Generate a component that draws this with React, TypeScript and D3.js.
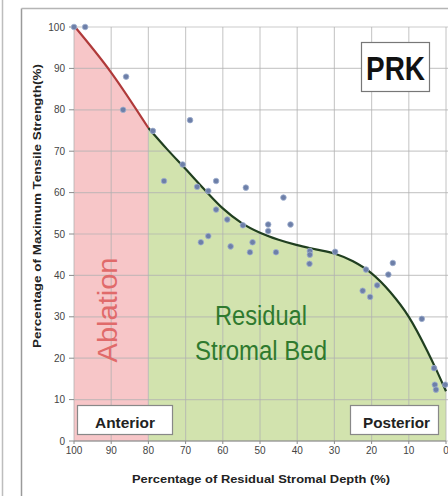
import React from "react";
import * as d3 from "d3";

const xTicks = [100, 90, 80, 70, 60, 50, 40, 30, 20, 10, 0];
const yTicks = [0, 10, 20, 30, 40, 50, 60, 70, 80, 90, 100];

const curveDepth = [100, 90, 80, 75, 70, 65, 60, 55, 50, 45, 40, 35, 30, 25, 20, 15, 10, 5, 2.5, 0];
const curveStrength = [100.3, 89.0, 75.6, 70.5, 65.7, 60.8, 56.2, 52.7, 50.3, 48.6, 47.3, 46.3, 45.3, 43.4, 40.5, 36, 30, 21.7, 17, 12];

const pointDepth = [100, 97, 86, 86.8, 78.8, 68.8, 70.8, 75.8, 61.8, 66.9, 63.9, 53.8, 43.7, 61.8, 58.8, 54.6, 47.8, 47.8, 41.8, 65.9, 63.9, 57.9, 52, 52.7, 45.7, 36.6, 36.6, 36.7, 29.8, 14.3, 15.5, 18.5, 22.4, 20.4, 21.5, 6.5, 3.2, 3, 2.7, 0.2];
const pointStrength = [100, 100, 88, 80, 74.9, 77.5, 66.8, 62.8, 62.8, 61.4, 60.4, 61.2, 58.8, 55.9, 53.5, 52.1, 52.3, 50.7, 52.3, 48, 49.5, 47, 48, 45.6, 45.6, 45.9, 45.0, 42.8, 45.7, 43, 40.2, 37.6, 36.3, 34.8, 41.4, 29.5, 17.6, 13.6, 12.4, 13.6];

const zoneSplit = 80;

export default function App() {
  const W = 448, H = 496;
  const x = d3.scaleLinear().domain([100, 0]).range([74, 446]);
  const y = d3.scaleLinear().domain([0, 100]).range([441, 27]);
  const font = "'Liberation Sans', Arial, sans-serif";

  const curve = curveDepth.map((d, i) => ({ d, s: curveStrength[i] }));
  const redPts = curve.filter((p) => p.d >= zoneSplit);
  const greenPts = curve.filter((p) => p.d <= zoneSplit);

  const area = d3
    .area<{ d: number; s: number }>()
    .x((p) => x(p.d))
    .y0(y(0))
    .y1((p) => y(p.s))
    .curve(d3.curveMonotoneX);
  const line = d3
    .line<{ d: number; s: number }>()
    .x((p) => x(p.d))
    .y((p) => y(p.s))
    .curve(d3.curveMonotoneX);

  const points = pointDepth.map((d, i) => ({ d, s: pointStrength[i] }));

  return (
    <svg width={W} height={H} style={{ position: "absolute", left: 0, top: 0, background: "#fff" }} fontFamily={font}>
      <rect x={0} y={0} width={W} height={H} fill="#fff" />
      {/* neighbour panel edge & frame */}
      <line x1={2.5} y1={0} x2={2.5} y2={H} stroke="#bdbdbd" strokeWidth={1.5} />
      <line x1={21.5} y1={8.5} x2={21.5} y2={H} stroke="#9a9a9a" strokeWidth={1.5} />
      <line x1={21.5} y1={8.5} x2={W} y2={8.5} stroke="#b5b5b5" strokeWidth={1.5} />

      {/* fills */}
      <path d={area(redPts) || ""} fill="#f7c6c8" />
      <path d={area(greenPts) || ""} fill="#d2e3ae" />

      {/* grid */}
      {yTicks.map((t) => (
        <line key={"gy" + t} x1={x(100)} x2={W} y1={y(t)} y2={y(t)} stroke="#b0b0b0" strokeOpacity={0.65} strokeWidth={1.2} />
      ))}
      {xTicks.map((t) => (
        <line key={"gx" + t} x1={x(t)} x2={x(t)} y1={y(100)} y2={y(0)} stroke="#b0b0b0" strokeOpacity={0.65} strokeWidth={1.2} />
      ))}

      {/* axes */}
      <line x1={x(100)} x2={x(0)} y1={y(0)} y2={y(0)} stroke="#8a8a8a" strokeWidth={1.2} />
      {xTicks.map((t) => (
        <line key={"tx" + t} x1={x(t)} x2={x(t)} y1={y(0)} y2={y(0) + 3} stroke="#8a8a8a" />
      ))}
      {yTicks.map((t) => (
        <line key={"ty" + t} x1={x(100) - 5} x2={x(100)} y1={y(t)} y2={y(t)} stroke="#8a8a8a" />
      ))}
      {xTicks.map((t) => (
        <text key={"lx" + t} x={x(t)} y={y(0) + 13} fontSize={10} textAnchor="middle" fill="#444">
          {t}
        </text>
      ))}
      {yTicks.map((t) => (
        <text key={"ly" + t} x={x(100) - 9} y={y(t) + 3.5} fontSize={10} textAnchor="end" fill="#444">
          {t}
        </text>
      ))}

      {/* curves */}
      <path d={line(redPts) || ""} fill="none" stroke="#b03a3a" strokeWidth={2.2} />
      <path d={line(greenPts) || ""} fill="none" stroke="#203f20" strokeWidth={2.2} />

      {/* points */}
      {points.map((p, i) => (
        <circle key={"p" + i} cx={x(p.d)} cy={y(p.s)} r={2.8} fill="#6d7fa8" stroke="#9fb0cf" strokeWidth={0.8} />
      ))}

      {/* labels inside */}
      <text
        transform={`translate(${117},${310}) rotate(-90)`}
        fontSize={27}
        textAnchor="middle"
        fill="#e06a6a"
        textLength={105}
        lengthAdjust="spacingAndGlyphs"
      >
        Ablation
      </text>
      <text x={261} y={325} fontSize={27} textAnchor="middle" fill="#2f7a2f" textLength={92} lengthAdjust="spacingAndGlyphs">
        Residual
      </text>
      <text x={261} y={360} fontSize={27} textAnchor="middle" fill="#2f7a2f" textLength={132} lengthAdjust="spacingAndGlyphs">
        Stromal Bed
      </text>

      {/* PRK box */}
      <rect x={361.5} y={42.5} width={68} height={49} fill="#fff" stroke="#777" strokeWidth={1.2} />
      <text x={395.5} y={80} fontSize={34} fontWeight="bold" textAnchor="middle" fill="#111" textLength={59} lengthAdjust="spacingAndGlyphs">
        PRK
      </text>

      {/* Anterior / Posterior boxes */}
      <rect x={77.5} y={405.5} width={95} height={29} fill="#fff" stroke="#888" strokeWidth={1.2} />
      <text x={125} y={428} fontSize={15} fontWeight="bold" textAnchor="middle" fill="#222" textLength={60} lengthAdjust="spacingAndGlyphs">
        Anterior
      </text>
      <rect x={350.5} y={405.5} width={88} height={29} fill="#fff" stroke="#888" strokeWidth={1.2} />
      <text x={396.5} y={428} fontSize={15} fontWeight="bold" textAnchor="middle" fill="#222" textLength={67} lengthAdjust="spacingAndGlyphs">
        Posterior
      </text>

      {/* axis titles */}
      <text x={261} y={483} fontSize={11.5} fontWeight="bold" textAnchor="middle" fill="#222" textLength={258} lengthAdjust="spacingAndGlyphs">
        Percentage of Residual Stromal Depth (%)
      </text>
      <text
        transform={`translate(${41},${206}) rotate(-90)`}
        fontSize={11.5}
        fontWeight="bold"
        textAnchor="middle"
        fill="#222"
        textLength={284}
        lengthAdjust="spacingAndGlyphs"
      >
        Percentage of Maximum Tensile Strength(%)
      </text>
    </svg>
  );
}
